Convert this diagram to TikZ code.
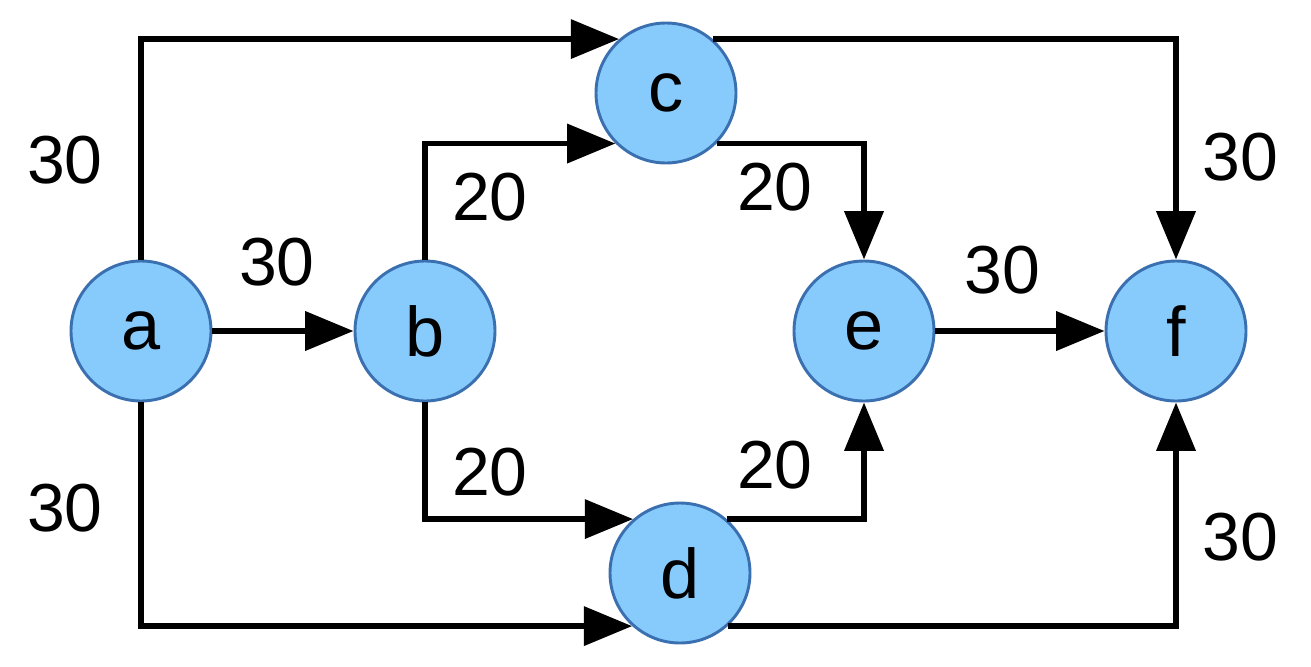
\documentclass[tikz,border=0pt]{standalone}
\usepackage{fontspec}
\setmainfont{Liberation Sans}
\usetikzlibrary{arrows.meta}
\definecolor{nfill}{HTML}{87CAFC}
\definecolor{nline}{HTML}{3A6FB0}
\begin{document}
\begin{tikzpicture}[x=0.03cm,y=-0.03cm,
  nd/.style={circle,draw=nline,line width=2.5pt,fill=nfill,minimum size=4.2cm,inner sep=0pt,font=\fontsize{60}{60}\selectfont},
  ed/.style={line width=5pt,-{Triangle[length=1.45cm,width=1.15cm]}},
  lb/.style={font=\fontsize{58}{58}\selectfont}]
\useasboundingbox (0,0) rectangle (1311,666);
\node[nd] (a) at (141,331) {a};
\node[nd] (b) at (425,331) {b};
\node[nd] (c) at (666,93) {c};
\node[nd] (d) at (680,573) {d};
\node[nd] (e) at (864,331) {e};
\node[nd] (f) at (1176,331) {f};
\begin{scope}[on background layer/.style={}]
\end{scope}
\draw[ed] (a.north) |- (c.131);
\draw[ed] (c.49) -| (f.north);
\draw[ed] (b.north) |- (c.225);
\draw[ed] (c.315) -| (e.north);
\draw[ed] (b.south) |- (d.131);
\draw[ed] (d.49) -| (e.south);
\draw[ed] (a.south) |- (d.228);
\draw[ed] (d.312) -| (f.south);
\draw[ed] (a) -- (b);
\draw[ed] (e) -- (f);
\node[lb] (l1) at (65,160) {30};
\node[lb] (l2) at (65,508) {30};
\node[lb] (l3) at (277,262) {30};
\node[lb] (l4) at (490,197) {20};
\node[lb] (l5) at (490,472) {20};
\node[lb] (l6) at (775,187) {20};
\node[lb] (l7) at (775,465) {20};
\node[lb] (l8) at (1002,270) {30};
\node[lb] (l9) at (1240,157) {30};
\node[lb] (l10) at (1240,537) {30};
\end{tikzpicture}
\end{document}
